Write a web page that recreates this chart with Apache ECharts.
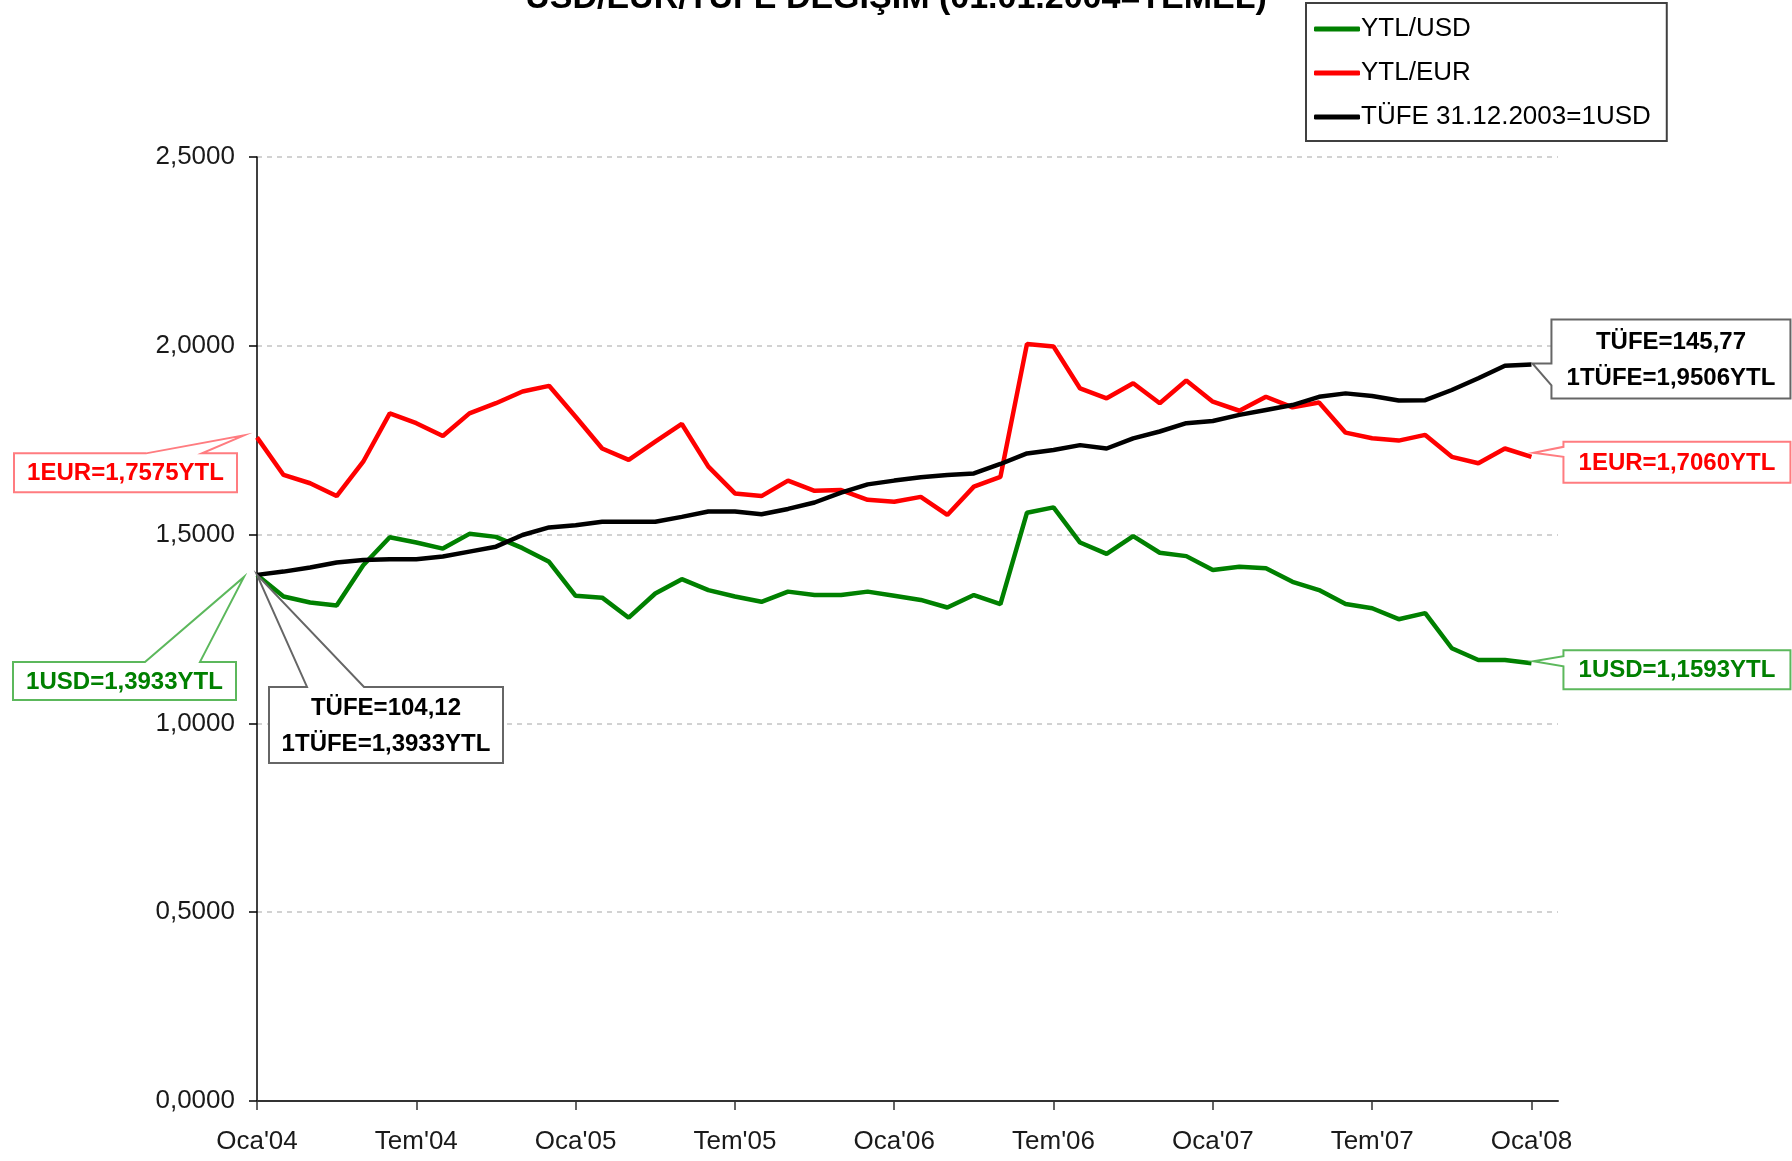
<!DOCTYPE html>
<html>
<head>
<meta charset="utf-8">
<script src="https://cdn.jsdelivr.net/npm/echarts@6/dist/echarts.min.js"></script>
<style>
  html, body { margin: 0; padding: 0; background: #fff; }
  #chart { width: 1792px; height: 1161px; }
</style>
</head>
<body>
<div id="chart"></div>
<script>
// month labels, Oca'04 .. Şub'08 (last one is the empty slot at the axis end)
const monthNames = ['Oca', 'Şub', 'Mar', 'Nis', 'May', 'Haz', 'Tem', 'Ağu', 'Eyl', 'Eki', 'Kas', 'Ara'];
const years = ['04', '05', '06', '07', '08'];
const categories = [];
years.forEach(y => monthNames.forEach(m => categories.push(m + "'" + y)));
categories.length = 50;

const seriesNames = ['YTL/USD', 'YTL/EUR', 'TÜFE 31.12.2003=1USD'];

// monthly from Oca'04 to Oca'08
const usd = [1.3933, 1.336, 1.320, 1.312, 1.419, 1.493, 1.479, 1.463, 1.502, 1.494, 1.464, 1.428,
  1.338, 1.333, 1.280, 1.344, 1.382, 1.353, 1.336, 1.322, 1.349, 1.340, 1.340, 1.349,
  1.338, 1.327, 1.307, 1.340, 1.316, 1.558, 1.572, 1.479, 1.449, 1.496, 1.452, 1.443,
  1.406, 1.415, 1.411, 1.375, 1.353, 1.316, 1.305, 1.276, 1.292, 1.199, 1.168, 1.168,
  1.1593];
const eur = [1.7575, 1.658, 1.636, 1.602, 1.693, 1.821, 1.795, 1.761, 1.821, 1.848, 1.879, 1.894,
  1.812, 1.728, 1.698, 1.746, 1.793, 1.680, 1.609, 1.602, 1.643, 1.616, 1.618, 1.592,
  1.587, 1.600, 1.552, 1.627, 1.653, 2.005, 1.998, 1.887, 1.861, 1.901, 1.848, 1.908,
  1.852, 1.828, 1.865, 1.837, 1.850, 1.770, 1.755, 1.749, 1.764, 1.706, 1.689, 1.728,
  1.7060];
const tufe = [1.3933, 1.402, 1.413, 1.426, 1.433, 1.435, 1.435, 1.442, 1.455, 1.468, 1.499, 1.519,
  1.525, 1.534, 1.534, 1.534, 1.547, 1.561, 1.561, 1.554, 1.568, 1.585, 1.611, 1.633,
  1.643, 1.652, 1.658, 1.662, 1.687, 1.715, 1.724, 1.737, 1.728, 1.755, 1.773, 1.795,
  1.801, 1.817, 1.830, 1.843, 1.865, 1.874, 1.867, 1.855, 1.856, 1.883, 1.914, 1.947,
  1.9506];

const colors = ['#008000', '#ff0000', '#000000'];

const fontFamily = '"Liberation Sans", Arial, sans-serif';
const axisSize = 26;
const boxFont = 'bold 24px "Liberation Sans", Arial, sans-serif';

const chart = echarts.init(document.getElementById('chart'));

const option = {
  animation: false,
  backgroundColor: '#fff',
  title: {
    text: 'USD/EUR/TÜFE DEĞİŞİM (01.01.2004=TEMEL)',
    left: 'center',
    top: -18,
    padding: 0,
    textStyle: { fontFamily: fontFamily, fontSize: 34, fontWeight: 'bold', color: '#000' }
  },
  legend: {
    data: seriesNames,
    orient: 'vertical',
    left: 1306,
    top: 3,
    padding: [13, 16, 11, 8],
    itemGap: 18,
    itemWidth: 46,
    itemHeight: 5,
    icon: 'roundRect',
    backgroundColor: '#fff',
    borderColor: '#404040',
    borderWidth: 2,
    textStyle: { fontFamily: fontFamily, fontSize: axisSize, color: '#000', padding: [0, 0, 0, -4] }
  },
  grid: { left: 257, top: 157, width: 1301, bottom: 60, containLabel: false },
  xAxis: {
    type: 'category',
    data: categories,
    boundaryGap: false,
    axisLine: { lineStyle: { color: '#333', width: 2 } },
    axisTick: { show: true, length: 9, interval: (i) => i % 6 === 0, lineStyle: { color: '#333', width: 1.5 } },
    axisLabel: {
      interval: (i) => i % 6 === 0,
      margin: 28,
      fontFamily: fontFamily,
      fontSize: axisSize,
      color: '#1a1a1a'
    },
    splitLine: { show: false }
  },
  yAxis: {
    type: 'value',
    min: 0,
    max: 2.5,
    interval: 0.5,
    axisLine: { show: true, lineStyle: { color: '#000', width: 1.5 } },
    axisTick: { show: true, length: 8, lineStyle: { color: '#000', width: 1.5 } },
    axisLabel: {
      margin: 22,
      fontFamily: fontFamily,
      fontSize: axisSize,
      color: '#1a1a1a',
      formatter: (v) => v.toFixed(4).replace('.', ',')
    },
    splitLine: { lineStyle: { color: '#c4c4c4', width: 1.5, type: [5, 5] } }
  },
  series: [usd, eur, tufe].map((d, i) => ({
    name: seriesNames[i],
    type: 'line',
    data: d,
    symbol: 'none',
    color: colors[i],
    lineStyle: { width: 4.5, color: colors[i] },
    z: 2 + i
  }))
};

chart.setOption(option);

// callout boxes, placed relative to the data point they point at
const callouts = [
  { data: eur, idx: 0, text: '1EUR=1,7575YTL', color: '#ff0000', border: '#ff7c80', edge: 'top', box: [-243, 16, -20, 55], wedge: [-111, -55], tip: [-13, -2] },
  { data: usd, idx: 0, text: '1USD=1,3933YTL', color: '#008000', border: '#5cb85c', edge: 'top', box: [-244, 87, -21, 125], wedge: [-112, -57], tip: [-13, 2] },
  { data: tufe, idx: 0, text: 'TÜFE=104,12\n1TÜFE=1,3933YTL', color: '#000', border: '#666', edge: 'top', box: [12, 112, 246, 188], wedge: [50, 107], tip: [0, 0] },
  { data: tufe, idx: 48, text: 'TÜFE=145,77\n1TÜFE=1,9506YTL', color: '#000', border: '#666', edge: 'left', box: [20, -45, 259, 34], wedge: [-1, 21], tip: [1, -1] },
  { data: eur, idx: 48, text: '1EUR=1,7060YTL', color: '#ff0000', border: '#ff7c80', edge: 'left', box: [32, -15, 259, 26], wedge: [-10, 0], tip: [2, -4] },
  { data: usd, idx: 48, text: '1USD=1,1593YTL', color: '#008000', border: '#5cb85c', edge: 'left', box: [32, -13, 259, 26], wedge: [-7, 3], tip: [2, -2] }
];

const graphics = [];
callouts.forEach(c => {
  const [ax, ay] = chart.convertToPixel({ gridIndex: 0 }, [c.idx, c.data[c.idx]]);
  const x1 = ax + c.box[0], y1 = ay + c.box[1], x2 = ax + c.box[2], y2 = ay + c.box[3];
  const tip = [ax + c.tip[0], ay + c.tip[1]];
  let pts;
  if (c.edge === 'top') {
    pts = [[x1, y1], [ax + c.wedge[0], y1], tip, [ax + c.wedge[1], y1], [x2, y1], [x2, y2], [x1, y2]];
  } else {
    pts = [[x1, y1], [x2, y1], [x2, y2], [x1, y2], [x1, ay + c.wedge[1]], tip, [x1, ay + c.wedge[0]]];
  }
  graphics.push({
    type: 'polygon',
    z: 100,
    shape: { points: pts },
    style: { fill: '#fff', stroke: c.border, lineWidth: 2, lineJoin: 'miter' }
  });
  graphics.push({
    type: 'text',
    z: 101,
    x: (x1 + x2) / 2,
    y: (y1 + y2) / 2 + 1,
    style: {
      text: c.text,
      fill: c.color,
      font: boxFont,
      lineHeight: 36,
      align: 'center',
      verticalAlign: 'middle'
    }
  });
});

chart.setOption({ graphic: graphics });
</script>
</body>
</html>
